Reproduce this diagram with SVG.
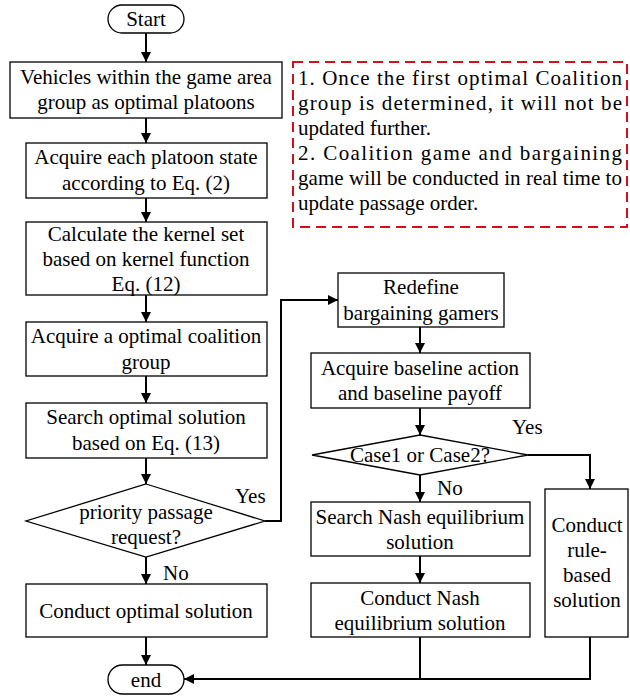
<svg xmlns="http://www.w3.org/2000/svg" width="630" height="696" viewBox="0 0 630 696">
<style>
.box{fill:#fff;stroke:#000;stroke-width:1.3}
.t{font-family:"Liberation Serif","Times New Roman",serif;font-size:21px;fill:#000;text-anchor:middle}
.n{font-family:"Liberation Serif","Times New Roman",serif;font-size:21px;fill:#000}
.c{fill:none;stroke:#000;stroke-width:2}
</style>
<defs>
<marker id="ah" viewBox="0 0 10 10" refX="10" refY="5" markerWidth="10" markerHeight="10" markerUnits="userSpaceOnUse" orient="auto">
<path d="M0,0 L10,5 L0,10 z" fill="#000"/>
</marker>
</defs>
<rect width="630" height="696" fill="#fff"/>
<g id="connectors">
<path class="c" d="M146,33 V62" marker-end="url(#ah)"/>
<path class="c" d="M146,118 V143" marker-end="url(#ah)"/>
<path class="c" d="M146,198 V222" marker-end="url(#ah)"/>
<path class="c" d="M146,295 V322" marker-end="url(#ah)"/>
<path class="c" d="M146,376 V403" marker-end="url(#ah)"/>
<path class="c" d="M146,458 V484" marker-end="url(#ah)"/>
<path class="c" d="M146,557 V584" marker-end="url(#ah)"/>
<path class="c" d="M146,637 V665" marker-end="url(#ah)"/>
<path class="c" d="M265,521 H281 V300 H338" marker-end="url(#ah)"/>
<path class="c" d="M420,327 V353" marker-end="url(#ah)"/>
<path class="c" d="M420,408 V435" marker-end="url(#ah)"/>
<path class="c" d="M528,455 H590 V489" marker-end="url(#ah)"/>
<path class="c" d="M420,475 V502" marker-end="url(#ah)"/>
<path class="c" d="M420,556 V583" marker-end="url(#ah)"/>
<path class="c" d="M420,637 V679"/>
<path class="c" d="M590,637 V679 H184" marker-end="url(#ah)"/>
<text class="n" x="235" y="503">Yes</text>
<text class="n" x="163" y="580">No</text>
<text class="n" x="512" y="434">Yes</text>
<text class="n" x="437" y="495">No</text>
</g>
<g id="start">
<rect class="box" x="108" y="5" width="76" height="28" rx="14"/>
<text class="t" x="146" y="26">Start</text>
</g>
<g id="vehicles">
<rect class="box" x="10" y="62" width="272" height="56"/>
<text class="t" x="146" y="84">Vehicles within the game area</text>
<text class="t" x="146" y="109">group  as optimal platoons</text>
</g>
<g id="note">
<rect x="293" y="62" width="334" height="165" fill="#fff" stroke="#d0101a" stroke-width="2" stroke-dasharray="10,6"/>
<text class="n" x="298" y="85" textLength="324" lengthAdjust="spacing">1. Once the first optimal Coalition</text>
<text class="n" x="298" y="110" textLength="324" lengthAdjust="spacing">group is determined, it will not be</text>
<text class="n" x="298" y="135">updated further.</text>
<text class="n" x="298" y="160" textLength="324" lengthAdjust="spacing">2. Coalition game and bargaining</text>
<text class="n" x="298" y="185" textLength="324" lengthAdjust="spacing">game will be conducted in real time to</text>
<text class="n" x="298" y="210">update passage order.</text>
</g>
<g id="state">
<rect class="box" x="26" y="143" width="241" height="55"/>
<text class="t" x="146" y="164">Acquire each platoon state</text>
<text class="t" x="146" y="190">according to Eq. (2)</text>
</g>
<g id="kernel">
<rect class="box" x="26" y="222" width="241" height="73"/>
<text class="t" x="146" y="241">Calculate the kernel set</text>
<text class="t" x="146" y="266">based on kernel function</text>
<text class="t" x="146" y="291">Eq. (12)</text>
</g>
<g id="coalition">
<rect class="box" x="26" y="322" width="241" height="54"/>
<text class="t" x="146" y="343">Acquire a optimal coalition</text>
<text class="t" x="146" y="369">group</text>
</g>
<g id="search">
<rect class="box" x="26" y="403" width="241" height="55"/>
<text class="t" x="146" y="424">Search optimal solution</text>
<text class="t" x="146" y="450">based on Eq. (13)</text>
</g>
<g id="priority">
<polygon class="box" points="146,484 265,521 146,557 26,521"/>
<text class="t" x="146" y="519">priority passage</text>
<text class="t" x="146" y="544">request?</text>
</g>
<g id="conduct-optimal">
<rect class="box" x="26" y="584" width="241" height="53"/>
<text class="t" x="146" y="618">Conduct optimal solution</text>
</g>
<g id="end">
<rect class="box" x="108" y="665" width="76" height="29" rx="14.5"/>
<text class="t" x="146" y="687">end</text>
</g>
<g id="redefine">
<rect class="box" x="338" y="273" width="166" height="54"/>
<text class="t" x="421" y="294">Redefine</text>
<text class="t" x="421" y="320">bargaining gamers</text>
</g>
<g id="baseline">
<rect class="box" x="311" y="353" width="219" height="55"/>
<text class="t" x="420" y="375">Acquire baseline action</text>
<text class="t" x="420" y="400">and baseline payoff</text>
</g>
<g id="case">
<polygon class="box" points="420,435 528,455 420,475 312,455"/>
<text class="t" x="420" y="462">Case1 or Case2?</text>
</g>
<g id="nash-search">
<rect class="box" x="311" y="502" width="219" height="54"/>
<text class="t" x="420" y="524">Search Nash equilibrium</text>
<text class="t" x="420" y="549">solution</text>
</g>
<g id="nash-conduct">
<rect class="box" x="311" y="583" width="219" height="54"/>
<text class="t" x="420" y="605">Conduct Nash</text>
<text class="t" x="420" y="630">equilibrium solution</text>
</g>
<g id="rule">
<rect class="box" x="545" y="489" width="83" height="148"/>
<text class="t" x="587" y="532">Conduct</text>
<text class="t" x="587" y="557">rule-</text>
<text class="t" x="587" y="582">based</text>
<text class="t" x="587" y="607">solution</text>
</g>
</svg>
